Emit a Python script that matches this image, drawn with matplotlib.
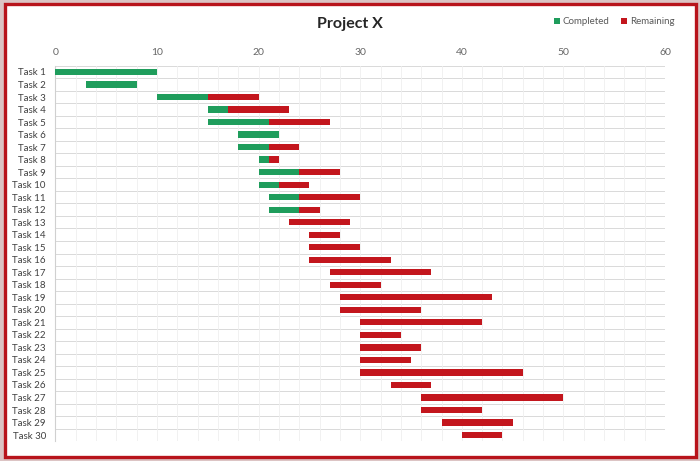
import matplotlib
matplotlib.use("Agg")
import matplotlib.pyplot as plt
from matplotlib.patches import Rectangle
import numpy as np

tasks = [f"Task {i}" for i in range(1, 31)]
start = [0, 3, 10, 15, 15, 18, 18, 20, 20, 20, 21, 21, 23, 25, 25, 25, 27, 27, 28, 28,
         30, 30, 30, 30, 30, 33, 36, 36, 38, 40]
completed = [10, 5, 5, 2, 6, 4, 3, 1, 4, 2, 3, 3, 0, 0, 0, 0, 0, 0, 0, 0,
             0, 0, 0, 0, 0, 0, 0, 0, 0, 0]
remaining = [0, 0, 5, 6, 6, 0, 3, 1, 4, 3, 6, 2, 6, 3, 5, 8, 10, 5, 15, 8,
             12, 4, 6, 5, 16, 4, 14, 6, 7, 4]
xticks = [0, 10, 20, 30, 40, 50, 60]

GREEN = "#1f9d5c"
RED = "#c3161d"

plt.rcParams['font.family'] = ['Lato', 'DejaVu Sans']

fig = plt.figure(figsize=(7, 4.61), dpi=100)
fig.patch.set_facecolor("#dcc4c4")
# white panel with red frame
fig.patches.append(Rectangle((4.5/700, 4.5/461), 691/700, 452/461, transform=fig.transFigure,
                             facecolor="white", edgecolor="#b8141b", linewidth=2.4, zorder=-5))

ax = fig.add_axes([55.5/700, 1-441.3/461, 609.5/700, 375.6/461])
ax.set_zorder(2)
ax.set_facecolor("none")
y = np.arange(len(tasks))
s = np.array(start)
c = np.array(completed)
r = np.array(remaining)
ax.barh(y, c, left=s, height=0.5, color=GREEN, zorder=3, label="Completed")
ax.barh(y, r, left=s + c, height=0.5, color=RED, zorder=3, label="Remaining")

ax.set_xlim(0, 60)
ax.set_ylim(len(tasks) - 0.5, -0.5)
ax.xaxis.tick_top()
ax.set_xticks(xticks)
ax.set_xticks(np.arange(0, 61, 2), minor=True)
ax.tick_params(axis='x', which='both', length=0, labelsize=7.5, labelcolor="#666666", pad=6)
ax.set_yticks(y)
ax.set_yticklabels(tasks)
ax.tick_params(axis='y', length=0, labelsize=7, labelcolor="#404040", pad=7)

for yy in np.arange(-0.5, len(tasks), 1.0):
    ax.axhline(yy, color="#d9d9d9", lw=0.7, zorder=1)
ax.grid(axis='x', which='both', color="#efefef", lw=0.6, zorder=0)
ax.grid(axis='y', visible=False)
for side in ["top", "right", "bottom"]:
    ax.spines[side].set_visible(False)
ax.spines["left"].set_color("#d0d0d0")
ax.spines["left"].set_linewidth(0.8)

fig.text(0.5, 1-24/461, "Project X", ha="center", va="center", fontsize=11.5,
         fontweight="bold", color="#262626")
leg = fig.legend(loc="center right", bbox_to_anchor=(683/700, 1-22/461), ncol=2, frameon=False,
                 fontsize=7, handlelength=0.6, handleheight=0.6, handletextpad=0.3,
                 columnspacing=1.2, labelcolor="#595959")

fig.savefig("out.png", dpi=100, facecolor=fig.get_facecolor())
